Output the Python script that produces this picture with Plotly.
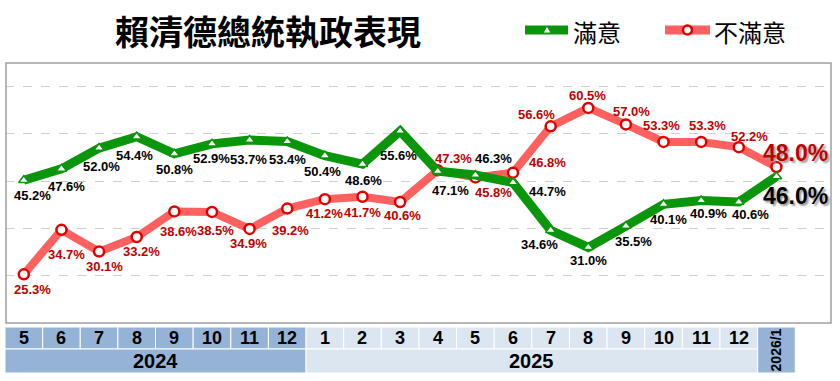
import plotly.graph_objects as go

# ---- data ----
month_labels = ["5", "6", "7", "8", "9", "10", "11", "12",
                "1", "2", "3", "4", "5", "6", "7", "8", "9", "10", "11", "12", "2026/1"]
year_labels = ["2024", "2025"]
satisfied = [45.2, 47.6, 52.0, 54.4, 50.8, 52.9, 53.7, 53.4, 50.4, 48.6, 55.6,
             47.1, 46.3, 44.7, 34.6, 31.0, 35.5, 40.1, 40.9, 40.6, 46.0]
dissatisfied = [25.3, 34.7, 30.1, 33.2, 38.6, 38.5, 34.9, 39.2, 41.2, 41.7, 40.6,
                47.3, 45.8, 46.8, 56.6, 60.5, 57.0, 53.3, 53.3, 52.2, 48.0]
title_text = "賴清德總統執政表現"
name_sat = "滿意"
name_dis = "不滿意"

# label offsets in pixels (dx right, dy down)
sat_off = [(9, 15), (5, 18), (2, 18), (-2, 19), (0, 16), (0, 15), (-1, 19), (0, 18), (-2, 16), (1, 16),
           (-2, 24), (13, 19), (18, -17), (34, 9), (-11, 14), (0, 13), (8, 15), (5, 15), (7, 13), (12, 13), (19, 20)]
dis_off = [(9, 15), (5, 25), (5, 15), (5, 15), (4, 20), (4, 19), (-1, 15), (3, 22), (0, 14), (0, 16),
           (2, 14), (16, -12), (18, 15), (34, -10), (-14, -12), (-1, -12), (6, -13), (-2, -16), (6, -16), (11, -11), (19, -14)]

W, H = 840, 381
ML, MR, MT, MB = 5, 9, 63, 58
PW, PH = W - ML - MR, H - MT - MB

def px(xp):
    return (xp - ML) / PW

def py(yp):
    return (H - MB - yp) / PH

GREEN = "#0A960A"
RED = "#FF6060"
RED_TXT = "#C00000"
DARK_BLUE = "#95B3D7"
LIGHT_BLUE = "#DCE6F1"
LABEL_FONT = "Liberation Sans, Arial"

n = len(month_labels)
xs = list(range(n))

fig = go.Figure()
fig.add_trace(go.Scatter(
    x=xs, y=dissatisfied, mode="lines+markers", name=name_dis,
    line=dict(color=RED, width=8),
    marker=dict(symbol="circle", size=10, color="white", line=dict(color="#E00000", width=2.5)),
    hoverinfo="skip"))
fig.add_trace(go.Scatter(
    x=xs, y=satisfied, mode="lines+markers", name=name_sat,
    line=dict(color=GREEN, width=9),
    marker=dict(symbol="triangle-up", size=9, color="white", line=dict(color=GREEN, width=1.5)),
    hoverinfo="skip"))

annotations = []
for series, offs, col in ((satisfied, sat_off, "black"), (dissatisfied, dis_off, RED_TXT)):
    for i, v in enumerate(series):
        big = i == n - 1
        dx, dy = offs[i]
        annotations.append(dict(
            x=i, y=v, xref="x", yref="y", text=f"{v:.1f}%", showarrow=False,
            xshift=dx, yshift=-dy,
            font=dict(family=LABEL_FONT, size=23 if big else 13, color=col, weight="bold",
                      shadow="2px 2px 2px #9a9a9a" if big else "none")))

# title
annotations.append(dict(
    x=px(268), y=py(30), xref="paper", yref="paper", text=title_text, showarrow=False,
    xanchor="center", yanchor="middle",
    font=dict(family="Noto Sans CJK TC", size=34, color="black", weight="bold")))
# legend texts
annotations.append(dict(x=px(571), y=py(31), xref="paper", yref="paper", text=name_sat, showarrow=False,
                        xanchor="left", yanchor="middle",
                        font=dict(family="Noto Sans CJK TC", size=24, color="black")))
annotations.append(dict(x=px(712), y=py(31), xref="paper", yref="paper", text=name_dis, showarrow=False,
                        xanchor="left", yanchor="middle",
                        font=dict(family="Noto Sans CJK TC", size=24, color="black")))

shapes = []
# plot border
shapes.append(dict(type="rect", xref="paper", yref="paper", x0=px(6), x1=px(831), y0=0, y1=1,
                   line=dict(color="#A0A0A0", width=1.5), fillcolor="rgba(0,0,0,0)", layer="above"))
# legend symbols
shapes.append(dict(type="line", xref="paper", yref="paper", x0=px(525), x1=px(568), y0=py(30), y1=py(30),
                   line=dict(color=GREEN, width=9)))
shapes.append(dict(type="path", xref="paper", yref="paper",
                   path=f"M{px(543)},{py(33)} L{px(551)},{py(33)} L{px(547)},{py(26)} Z",
                   fillcolor="white", line=dict(color=GREEN, width=1)))
shapes.append(dict(type="line", xref="paper", yref="paper", x0=px(665), x1=px(710), y0=py(30), y1=py(30),
                   line=dict(color=RED, width=9)))
shapes.append(dict(type="circle", xref="paper", yref="paper", x0=px(683), x1=px(692), y0=py(34.5), y1=py(25.5),
                   fillcolor="white", line=dict(color="#E00000", width=2.5)))

# bottom table
r1_top, r1_bot, r2_bot = py(327), py(349), py(373)
year_of = [0] * 8 + [1] * 12 + [2]
for i, lab in enumerate(month_labels):
    if i == n - 1:
        shapes.append(dict(type="rect", xref="x", yref="paper", x0=i - 0.5, x1=i + 0.5, y0=r2_bot, y1=r1_top,
                           fillcolor=DARK_BLUE, line=dict(color="white", width=1), layer="above"))
        annotations.append(dict(x=i, y=(r1_top + r2_bot) / 2, xref="x", yref="paper", text=lab,
                                showarrow=False, textangle=-90, xanchor="center", yanchor="middle",
                                font=dict(family="Liberation Sans, Arial", size=14, color="black", weight="bold")))
    else:
        col = DARK_BLUE if year_of[i] == 0 else LIGHT_BLUE
        shapes.append(dict(type="rect", xref="x", yref="paper", x0=i - 0.5, x1=i + 0.5, y0=r1_bot, y1=r1_top,
                           fillcolor=col, line=dict(color="white", width=1), layer="above"))
        annotations.append(dict(x=i, y=(r1_top + r1_bot) / 2, xref="x", yref="paper", text=lab,
                                showarrow=False, xanchor="center", yanchor="middle",
                                font=dict(family="Liberation Sans, Arial", size=18, color="black", weight="bold")))
# year row
spans = [(-0.5, 7.5, DARK_BLUE, year_labels[0]), (7.5, 19.5, LIGHT_BLUE, year_labels[1])]
for x0, x1, col, lab in spans:
    shapes.append(dict(type="rect", xref="x", yref="paper", x0=x0, x1=x1, y0=r2_bot, y1=r1_bot,
                       fillcolor=col, line=dict(color="white", width=1), layer="above"))
    annotations.append(dict(x=(x0 + x1) / 2, y=(r1_bot + r2_bot) / 2, xref="x", yref="paper", text=lab,
                            showarrow=False, xanchor="center", yanchor="middle",
                            font=dict(family="Liberation Sans, Arial", size=20, color="black", weight="bold")))

fig.update_layout(
    width=W, height=H,
    margin=dict(l=ML, r=MR, t=MT, b=MB),
    paper_bgcolor="white", plot_bgcolor="white",
    showlegend=False,
    xaxis=dict(range=[-0.5, 21.45], showgrid=False, zeroline=False, showticklabels=False, ticks=""),
    yaxis=dict(range=[15, 70], tick0=5, dtick=10, showgrid=True, gridcolor="#CFCFCF", griddash="dash",
               gridwidth=1, zeroline=False, showticklabels=False, ticks=""),
    annotations=annotations,
    shapes=shapes,
)

fig.write_html("out.html", config={"displayModeBar": False},
               post_script="document.body.style.margin='0';")
